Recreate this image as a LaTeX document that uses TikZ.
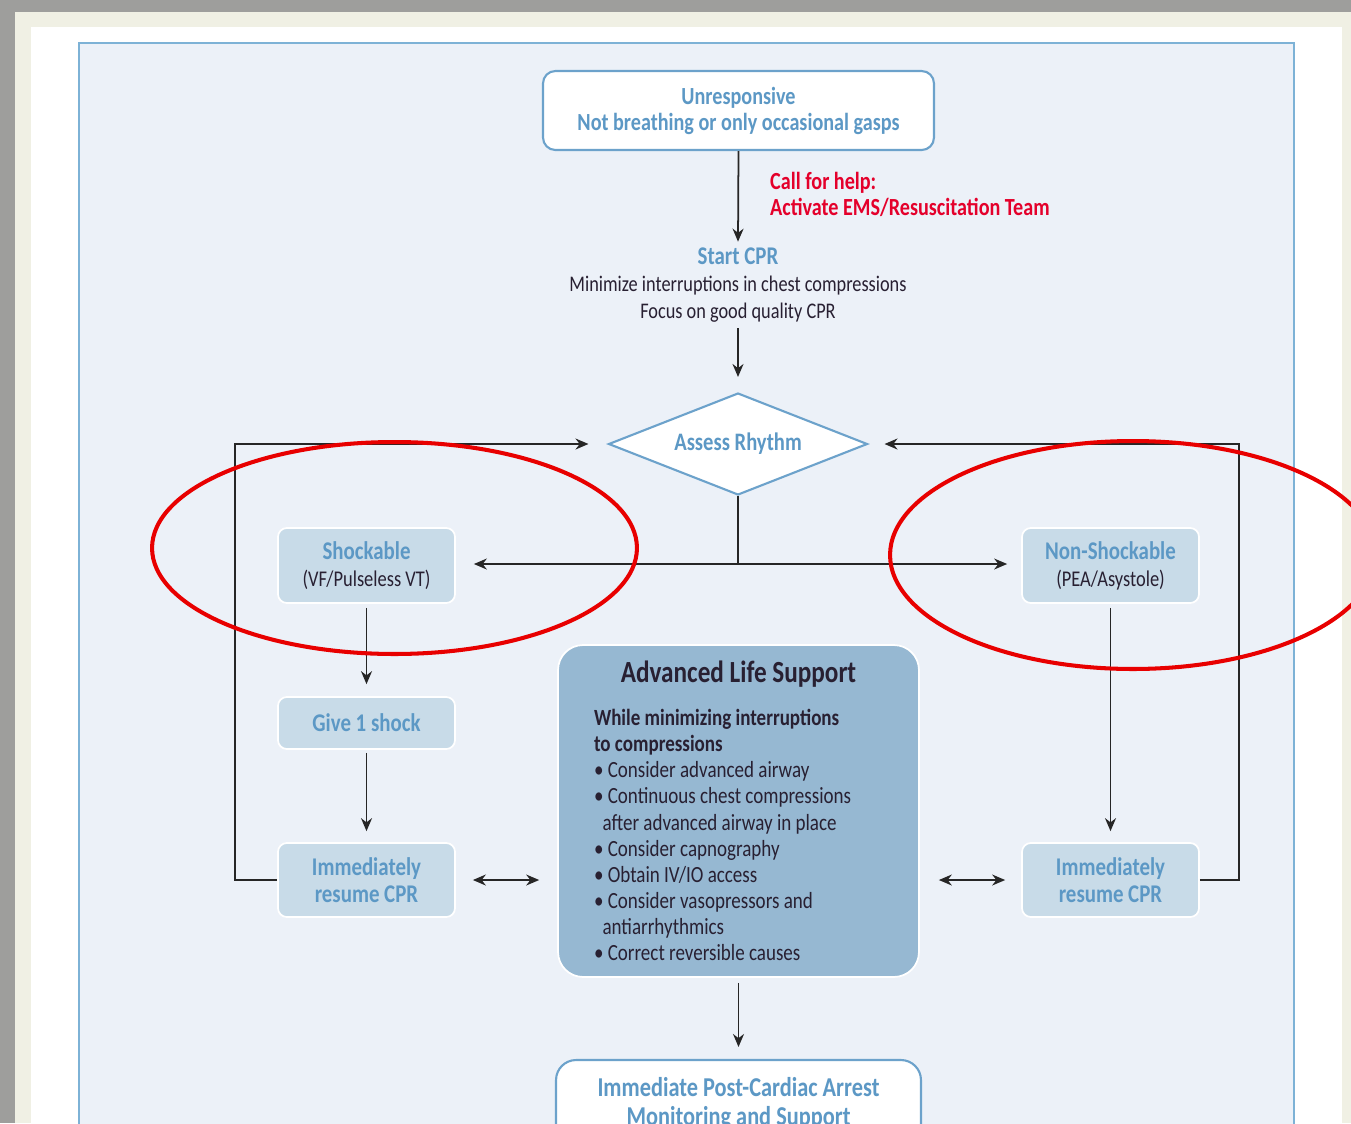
\documentclass[tikz,border=0pt]{standalone}
\usepackage{fontspec}
\setmainfont{Carlito}[FakeStretch=0.82]
\definecolor{panelblue}{RGB}{236, 241, 248}
\definecolor{panelline}{RGB}{125, 178, 214}
\definecolor{headblue}{RGB}{92, 152, 197}
\definecolor{stepfill}{RGB}{200, 219, 232}
\definecolor{alsfill}{RGB}{150, 184, 210}
\definecolor{alertred}{RGB}{228, 0, 43}
\definecolor{inkdark}{RGB}{40, 32, 50}
\definecolor{framegray}{RGB}{158, 158, 156}
\definecolor{framecream}{RGB}{240, 240, 228}
\definecolor{ringred}{RGB}{232, 0, 0}
\usetikzlibrary{shapes.geometric, arrows.meta, positioning, calc}

\begin{document}
\begin{tikzpicture}[x=0.02cm, y=-0.02cm,
  outline/.style={draw=headblue!90, line width=1.2pt, fill=white, align=center, text=headblue, font=\fontsize{14}{14.8}\selectfont\bfseries},
  stepbox/.style={draw=white, line width=1pt, fill=stepfill, rounded corners=5pt, minimum width=3.54cm, align=center, text=headblue, font=\fontsize{14.5}{15.3}\selectfont\bfseries},
  decision/.style={diamond, draw=headblue!90, line width=1.2pt, fill=white, aspect=2.5, inner sep=0pt, minimum width=5.18cm, minimum height=2.04cm, text=headblue, font=\fontsize{14.3}{15}\selectfont\bfseries},
  alsbox/.style={draw=white, line width=1pt, fill=alsfill, rounded corners=0.5cm, minimum width=7.22cm, minimum height=6.64cm, inner xsep=0.72cm, text width=5.78cm, align=left, text=inkdark, font=\fontsize{13.2}{14.9}\selectfont},
  line/.style={line width=1pt, black!85},
  arr/.style={line, -{Stealth[length=2.6mm, width=2.2mm]}},
  dblarr/.style={line, {Stealth[length=2.6mm, width=2.2mm]}-{Stealth[length=2.6mm, width=2.2mm]}},
  ring/.style={draw=ringred, line width=2.3pt}
]
  \path[use as bounding box] (0,0) rectangle (1351,1123);
  \clip (0,0) rectangle (1351,1123);

  % page frame and panel
  \fill[framegray] (0,0) rectangle (1351,1123);
  \fill[framecream] (15,12) rectangle (1351,1123);
  \fill[white] (31,27) rectangle (1342,1123);
  \filldraw[fill=panelblue, draw=panelline, line width=1pt] (79,43) rectangle (1294,1150);

  % top of the chain
  \node[outline, rounded corners=7pt, minimum width=7.82cm, minimum height=1.58cm] (unresp) at (738.5,110.5)
    {Unresponsive\\Not breathing or only occasional gasps};
  \node[anchor=west, align=left, text=alertred, font=\fontsize{14}{14.8}\selectfont\bfseries] (callhelp) at (764,194)
    {Call for help:\\Activate EMS/Resuscitation Team};
  \node[align=center, text=inkdark, font=\fontsize{12.7}{15.3}\selectfont] (startcpr) at (738,285)
    {{\color{headblue}\fontsize{14.5}{15.3}\selectfont\bfseries Start CPR}\\
     Minimize interruptions in chest compressions\\
     Focus on good quality CPR};
  \node[decision] (rhythm) at (738,444) {Assess Rhythm};

  % the two branches
  \node[stepbox, minimum height=1.5cm] (shock) at (366.5,565.5)
    {Shockable\\{\color{inkdark}\mdseries\fontsize{12.8}{14}\selectfont (VF/Pulseless VT)}};
  \node[stepbox, minimum height=1.5cm] (nonshock) at (1110.5,565.5)
    {Non-Shockable\\{\color{inkdark}\mdseries\fontsize{12.8}{14}\selectfont (PEA/Asystole)}};
  \node[stepbox, minimum height=1.04cm] (give) at (366.5,723) {Give 1 shock};
  \node[stepbox, minimum height=1.48cm] (resL) at (366.5,880) {Immediately\\resume CPR};
  \node[stepbox, minimum height=1.48cm] (resR) at (1110.5,880) {Immediately\\resume CPR};

  \node[alsbox] (als) at (738.5,811) {\spaceskip=0pt\relax
    {\centering\fontsize{17.5}{18}\selectfont\bfseries Advanced Life Support\par}
    \vspace{9.5pt}
    {\bfseries While minimizing interruptions\\to compressions}\\
    • Consider advanced airway\\
    • Continuous chest compressions\\
    \hspace*{0.17cm}after advanced airway in place\\
    • Consider capnography\\
    • Obtain IV/IO access\\
    • Consider vasopressors and\\
    \hspace*{0.17cm}antiarrhythmics\\
    • Correct reversible causes};

  \node[outline, rounded corners=0.4cm, minimum width=7.3cm, minimum height=1.76cm, font=\fontsize{15.5}{16.5}\selectfont\bfseries] (post) at (738.5,1104)
    {Immediate Post-Cardiac Arrest\\Monitoring and Support};

  % connectors
  \draw[arr] (unresp.south) -- (startcpr.north);
  \draw[arr, shorten >=0.3cm] (startcpr.south) -- (rhythm.north);
  \coordinate (split) at (738,564);
  \draw[line] (rhythm.south) -- (split);
  \draw[arr, shorten >=0.36cm] (split) -- (split -| shock.east);
  \draw[arr, shorten >=0.28cm] (split) -- (split -| nonshock.west);

  \draw[arr, shorten <=0.08cm, shorten >=0.24cm] (shock) -- (give);
  \draw[arr, shorten <=0.06cm, shorten >=0.22cm] (give) -- (resL);
  \draw[arr, shorten <=0.08cm, shorten >=0.22cm] (nonshock) -- (resR);

  \draw[arr, shorten >=0.38cm] (resL.west) -- ++(-42,0) |- (rhythm.west);
  \draw[arr, shorten >=0.32cm] (resR.east) -- ++(39,0) |- (rhythm.east);

  \draw[dblarr, shorten <=0.34cm, shorten >=0.36cm] (resL.east) -- (resL.east -| als.west);
  \draw[dblarr, shorten <=0.38cm, shorten >=0.32cm] (resR.west -| als.east) -- (resR.west);
  \draw[arr, shorten <=0.1cm, shorten >=0.24cm] (als) -- (post);

  % red rings
  \draw[ring] (394.5,548) ellipse [x radius=4.85cm, y radius=2.12cm];
  \draw[ring] (1133,555) ellipse [x radius=4.86cm, y radius=2.28cm];
\end{tikzpicture}
\end{document}
